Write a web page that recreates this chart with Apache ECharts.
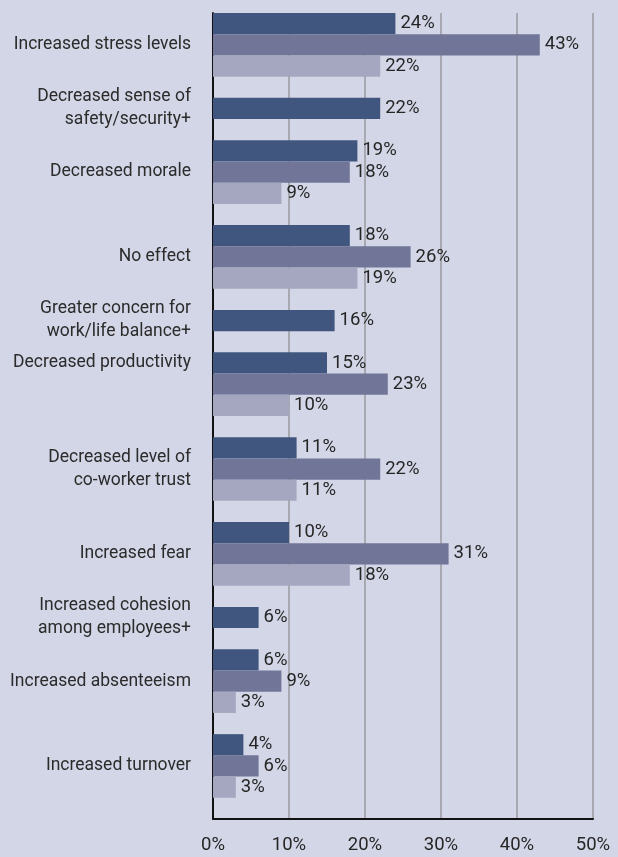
<!DOCTYPE html>
<html>
<head>
<meta charset="utf-8">
<script src="https://cdn.jsdelivr.net/npm/echarts@6/dist/echarts.min.js"></script>
<style>
  html, body { margin: 0; padding: 0; background: #d3d6e6; }
  #chart { width: 618px; height: 857px; }
</style>
</head>
<body>
<div id="chart"></div>
<script>
// Effects on the workplace, three survey groups (percent)
const categories = [
  'Increased stress levels',
  'Decreased sense of\nsafety/security+',
  'Decreased morale',
  'No effect',
  'Greater concern for\nwork/life balance+',
  'Decreased productivity',
  'Decreased level of\nco-worker trust',
  'Increased fear',
  'Increased cohesion\namong employees+',
  'Increased absenteeism',
  'Increased turnover'
];
const seriesA = [24, 22, 19, 18, 16, 15, 11, 10, 6, 6, 4];
const seriesB = [43, null, 18, 26, null, 23, 22, 31, null, 9, 6];
const seriesC = [22, null, 9, 19, null, 10, 11, 18, null, 3, 3];
const xTicks = [0, 10, 20, 30, 40, 50];

const colors = ['#40567f', '#717699', '#a4a7bf'];
// Row (within its group) that carries each category's name
const nameRow = [1, 0, 1, 1, 0, 0, 1, 1, 0, 1, 1];

// Each bar gets its own row; categories asked only of one group take one row,
// and an empty row separates the groups.
const rows = [];
const dataA = [], dataB = [], dataC = [];
categories.forEach((name, i) => {
  const cols = [dataA, dataB, dataC];
  let k = 0;
  [seriesA[i], seriesB[i], seriesC[i]].forEach((v, s) => {
    if (v === null) return;
    rows.push(k === nameRow[i] ? name : '');
    cols.forEach((arr, t) => arr.push(t === s ? v : '-'));
    k++;
  });
  rows.push('');
  cols.forEach(arr => arr.push('-'));
});

const labelStyle = {
  show: true,
  position: 'right',
  distance: 5,
  formatter: p => p.value + '%',
  fontSize: 18.5,
  color: '#262626',
  fontFamily: 'Roboto, sans-serif'
};

const makeSeries = (data, idx) => ({
  type: 'bar',
  data: data,
  barWidth: '100%',
  barGap: '-100%',
  itemStyle: { color: colors[idx] },
  label: labelStyle,
  z: 2
});

const chart = echarts.init(document.getElementById('chart'));
chart.setOption({
  backgroundColor: '#d3d6e6',
  animation: false,
  grid: { left: 213, right: 25, top: 13, bottom: 38, containLabel: false },
  xAxis: {
    type: 'value',
    min: xTicks[0],
    max: xTicks[xTicks.length - 1],
    interval: 10,
    axisLine: { show: true, onZero: false, lineStyle: { color: '#111', width: 2 } },
    axisTick: { show: false },
    axisLabel: {
      formatter: '{value}%',
      fontSize: 18.5,
      color: '#262626',
      margin: 17,
      fontFamily: 'Roboto, sans-serif'
    },
    splitLine: { show: true, lineStyle: { color: '#9a9a9e', width: 1.5 } }
  },
  yAxis: {
    type: 'category',
    data: rows,
    inverse: true,
    axisLine: { show: true, lineStyle: { color: '#111', width: 2 } },
    axisTick: { show: false },
    axisLabel: {
      interval: 0,
      fontSize: 17.5,
      lineHeight: 23,
      color: '#2b2b2b',
      margin: 22,
      align: 'right',
      fontFamily: 'Roboto, sans-serif'
    },
    splitLine: { show: false }
  },
  series: [makeSeries(dataA, 0), makeSeries(dataB, 1), makeSeries(dataC, 2)]
});
</script>
</body>
</html>
